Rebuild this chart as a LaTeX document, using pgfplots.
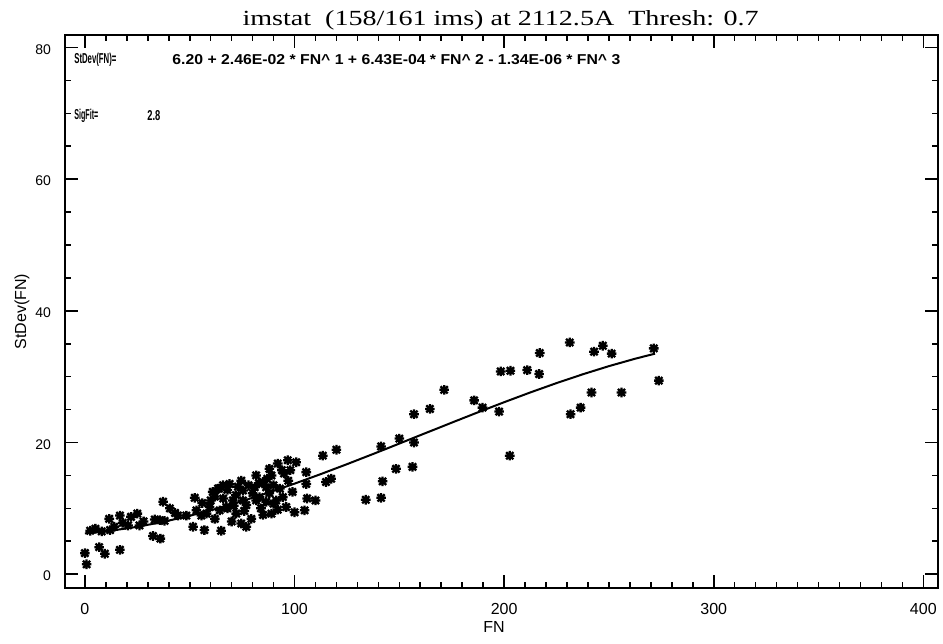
\documentclass[border=0pt]{standalone}
\usepackage{fontspec}
\setmainfont{Liberation Sans}
\newfontfamily\titlefont{Liberation Serif}
\usepackage{graphicx}
\usepackage{pgfplots}
\pgfplotsset{compat=1.18}
\pgfdeclareplotmark{idlast}{%
  \pgfpathmoveto{\pgfpoint{-\pgfplotmarksize}{0pt}}%
  \pgfpathlineto{\pgfpoint{\pgfplotmarksize}{0pt}}%
  \pgfpathmoveto{\pgfpoint{0pt}{-\pgfplotmarksize}}%
  \pgfpathlineto{\pgfpoint{0pt}{\pgfplotmarksize}}%
  \pgfpathmoveto{\pgfpoint{-0.75\pgfplotmarksize}{-0.75\pgfplotmarksize}}%
  \pgfpathlineto{\pgfpoint{0.75\pgfplotmarksize}{0.75\pgfplotmarksize}}%
  \pgfpathmoveto{\pgfpoint{-0.75\pgfplotmarksize}{0.75\pgfplotmarksize}}%
  \pgfpathlineto{\pgfpoint{0.75\pgfplotmarksize}{-0.75\pgfplotmarksize}}%
  \pgfusepathqstroke}
\pgfplotstableread{
fn sd
0 3.2
0.8 1.5
6.8 4.1
9.5 3.1
16.7 3.7
2.5 6.6
5 6.9
8 6.5
11.6 8.4
12 6.7
14 7.2
16.7 8.9
18 7.8
20.6 7.4
22 8.7
25 9.2
26 7.4
28 8.0
32.5 5.8
36 5.4
33.3 8.3
35.7 8.2
38 8.1
37.3 11.0
40.5 10.0
43 9.3
44.4 8.9
48.4 8.9
52.4 11.6
51.6 7.2
57 6.7
65 6.6
55.6 8.9
53.2 9.7
62 8.4
61 12.5
63.5 13.0
65.9 13.5
59.5 10.2
68 10.0
56 10.8
60 11.2
66 11.5
58 9.2
64.3 9.7
67.5 10.2
64 13.0
69 13.7
70.6 11.2
72 12.0
72.2 9.2
70 8.0
74.6 7.7
77 7.2
79.4 8.4
74.6 14.2
75.4 12.7
75.4 11.2
78 13.5
81 13.2
81.7 15.0
81.7 11.2
83.3 11.7
84 10.0
85 14.0
86.5 13.2
86.5 11.0
88 12.3
89 15.0
89 9.2
90 13.5
91.3 11.2
92 16.8
92 9.8
94.4 11.7
95 15.3
96 10.2
96.8 17.3
98 15.8
99 12.5
100 9.4
100.8 17.0
104.8 9.7
105.6 13.7
105.6 15.5
106 11.5
110 11.2
62 11.8
68 12.8
73 13.3
77 10.5
80 12.3
83 13.8
87 14.5
93 13.0
97 14.2
71 10.4
76 9.6
85 9.0
90 10.7
94 15.8
88 16.0
113.5 18.0
115 14.0
117.5 14.5
120 18.9
134 11.3
141.3 11.6
142 14.1
141.3 19.4
148.4 16.0
150 20.6
156.3 16.3
157 20.0
157 24.3
164.6 25.1
171.4 28.0
185.7 26.4
189.7 25.3
197.6 24.7
198.4 30.8
203 30.9
202.7 18.0
211 31.0
216.7 30.4
217 33.6
231.3 35.2
231.7 24.3
236.5 25.3
241.7 27.6
242.9 33.8
247.1 34.7
251.3 33.5
256 27.6
271.4 34.3
273.8 29.4
}\pts
\pgfplotstableread{
fn sd
0 6.200
12.5 6.605
25 7.196
37.5 7.956
50 8.870
62.5 9.922
75 11.097
87.5 12.378
100 13.750
112.5 15.198
125 16.705
137.5 18.256
150 19.835
162.5 21.427
175 23.016
187.5 24.585
200 26.120
212.5 27.606
225 29.023
237.5 30.360
250 31.600
262.5 32.727
272 33.497
}\fit
\begin{document}
\begin{tikzpicture}
\useasboundingbox (-32.5pt,-27.5pt) rectangle (439pt,294pt);
\begin{axis}[
  at={(0pt,0pt)}, anchor=south west,
  scale only axis, width=436.5pt, height=276.5pt,
  xmin=-9.5, xmax=407, ymin=-2.1, ymax=81.9,
  xtick={0,100,200,300,400}, ytick={0,20,40,60,80},
  minor x tick num=9, minor y tick num=3,
  major tick length=6.5pt, minor tick length=3pt,
  tick style={line width=0.8pt, black},
  axis line style={line width=1pt},
  /pgf/number format/assume math mode=true,
  xticklabel style={font=\fontsize{8}{9}\selectfont, yshift=-4pt},
  yticklabel style={font=\fontsize{7}{8}\selectfont, xshift=-3.5pt, yshift=-1pt},
  clip=false,
]
\addplot[black, line width=1pt] table[x=fn,y=sd] {\fit};
\addplot[only marks, mark=idlast, mark size=2.4pt, mark options={line width=1.15pt, black}] table[x=fn,y=sd] {\pts};
\node at (rel axis cs:0.4989,1.0271) {\scalebox{1.3}[1]{\titlefont\fontsize{10.8}{12}\selectfont imstat\ \ (158/161 ims) at 2112.5A\ \ Thresh: 0.7}};
\node[anchor=west, inner sep=0pt] at (rel axis cs:0.0103,0.9548) {\resizebox{21pt}{5.2pt}{\fontsize{7}{8}\selectfont\bfseries StDev(FN)=}};
\node[anchor=west, inner sep=0pt] at (rel axis cs:0.1226,0.9548) {\resizebox{224pt}{5pt}{\fontsize{7}{8}\selectfont\bfseries 6.20 + 2.46E-02 * FN\textasciicircum\ 1 + 6.43E-04 * FN\textasciicircum\ 2 - 1.34E-06 * FN\textasciicircum\ 3}};
\node[anchor=west, inner sep=0pt] at (rel axis cs:0.0103,0.8535) {\resizebox{12pt}{5.2pt}{\fontsize{7}{8}\selectfont\bfseries SigFit=}};
\node[anchor=west, inner sep=0pt] at (rel axis cs:0.0939,0.8535) {\resizebox{6.5pt}{5pt}{\fontsize{7}{8}\selectfont\bfseries 2.8}};
\node[font=\fontsize{8}{9}\selectfont] at (rel axis cs:0.4914,-0.0705) {FN};
\node[font=\fontsize{8}{9}\selectfont, rotate=90] at (rel axis cs:-0.0493,0.5) {StDev(FN)};
\end{axis}
\end{tikzpicture}
\end{document}
